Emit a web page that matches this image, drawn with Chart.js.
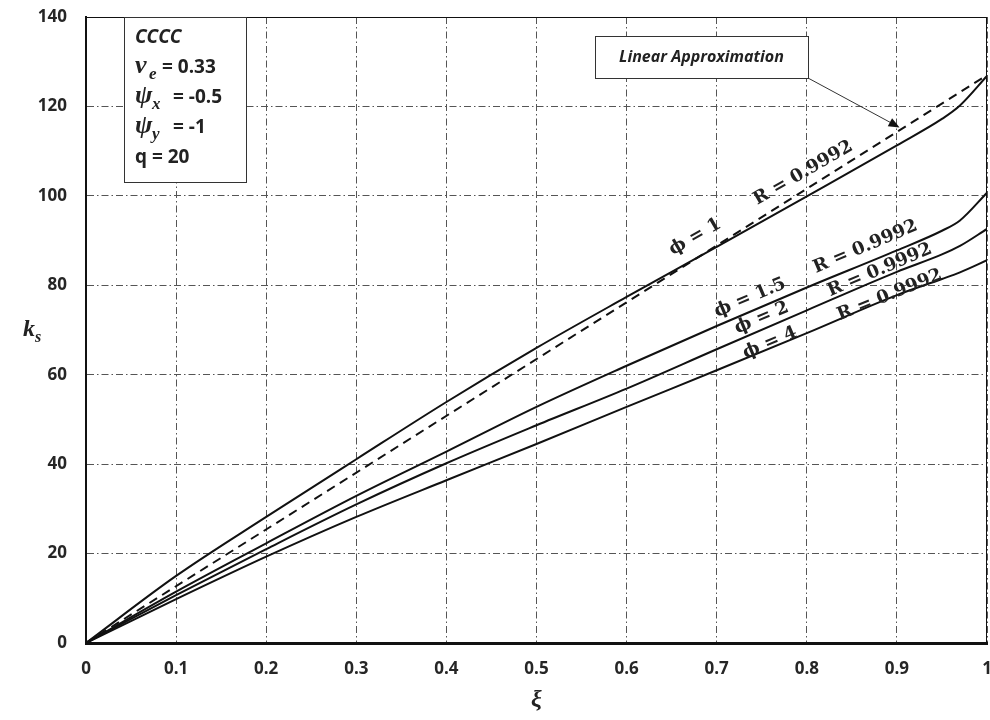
<!DOCTYPE html>
<html>
<head>
  <title>ks vs xi</title>
  <script src="https://cdn.jsdelivr.net/npm/chart.js"></script>
  <style>
    body { margin: 0; background: #fff; }
    #wrap { width: 990px; height: 720px; }
  </style>
</head>
<body>
<div id="wrap"><canvas id="myChart"></canvas></div>

<script>
// values
var xi = [0, 0.1, 0.2, 0.3, 0.4, 0.5, 0.6, 0.7, 0.8, 0.9, 0.95, 0.97, 1];
var phi1 = [0, 15.0, 28.2, 41.1, 53.9, 66.0, 77.4, 88.6, 99.9, 111.3, 117.2, 120.2, 126.8];
var phi15 = [0, 11.5, 22.3, 32.9, 42.8, 52.8, 62.0, 70.9, 79.5, 87.8, 92.2, 94.5, 100.7];
var phi2 = [0, 10.7, 21.0, 31.0, 40.2, 48.7, 56.9, 65.7, 74.4, 83.0, 86.9, 88.8, 92.6];
var phi4 = [0, 9.8, 19.3, 28.2, 36.4, 44.5, 52.8, 61.0, 69.3, 77.8, 81.4, 82.9, 85.6];
var linearX = [0, 1];
var linearY = [0, 127];
var xTickLabels = ['0', '0.1', '0.2', '0.3', '0.4', '0.5', '0.6', '0.7', '0.8', '0.9', '1'];
var yTickLabels = ['0', '20', '40', '60', '80', '100', '120', '140'];

function pts(xs, ys) {
  return xs.map(function(v, i) { return {x: v, y: ys[i]}; });
}

function curve(label, ys) {
  return {
    label: label,
    data: pts(xi, ys),
    borderColor: '#111',
    borderWidth: 2,
    pointRadius: 0,
    cubicInterpolationMode: 'monotone',
    fill: false
  };
}

var tickFont = { family: "'Liberation Sans Narrow', 'Open Sans', sans-serif", size: 17, weight: 'bold' };

// text, box and arrow drawn over the plot
var annot = {
  id: 'annot',
  afterDraw: function(chart) {
    var ctx = chart.ctx, a = chart.chartArea, x = chart.scales.x, y = chart.scales.y;
    ctx.save();

    // frame
    ctx.strokeStyle = '#111';
    ctx.lineWidth = 1;
    ctx.strokeRect(a.left + 0.5, a.top + 0.5, a.width - 1, a.height);

    // info box
    var bx = a.left + 38, by = a.top, bw = 122, bh = 165;
    ctx.fillStyle = '#fff';
    ctx.fillRect(bx, by, bw, bh);
    ctx.strokeStyle = '#333';
    ctx.strokeRect(bx + 0.5, by + 0.5, bw, bh);

    ctx.fillStyle = '#222';
    ctx.textBaseline = 'middle';
    ctx.textAlign = 'left';
    var tx = bx + 11;
    var sans = "'Open Sans', sans-serif";
    var serif = "'Liberation Serif', serif";
    var dserif = "'DejaVu Serif', serif";
    ctx.font = 'italic bold 19px ' + sans;
    ctx.fillText('CCCC', tx, 38);

    ctx.font = 'italic bold 26px ' + serif;
    ctx.fillText('\u03BD', tx, 66);
    ctx.font = 'italic bold 17px ' + serif;
    ctx.fillText('e', tx + 14, 75);
    ctx.font = 'bold 19px ' + sans;
    ctx.fillText('= 0.33', tx + 27, 68);

    ctx.font = 'italic bold 26px ' + serif;
    ctx.fillText('\u03C8', tx, 96);
    ctx.font = 'italic bold 17px ' + serif;
    ctx.fillText('x', tx + 17, 105);
    ctx.font = 'bold 19px ' + sans;
    ctx.fillText('= -0.5', tx + 38, 98);

    ctx.font = 'italic bold 26px ' + serif;
    ctx.fillText('\u03C8', tx, 126);
    ctx.font = 'italic bold 17px ' + serif;
    ctx.fillText('y', tx + 17, 135);
    ctx.font = 'bold 19px ' + sans;
    ctx.fillText('= -1', tx + 38, 128);

    ctx.fillText('q = 20', tx, 158);

    // linear approximation callout
    var lx = 595, ly = 36, lw = 213, lh = 42;
    ctx.fillStyle = '#fff';
    ctx.fillRect(lx, ly, lw, lh);
    ctx.strokeStyle = '#333';
    ctx.strokeRect(lx + 0.5, ly + 0.5, lw, lh);
    ctx.fillStyle = '#222';
    ctx.textAlign = 'center';
    ctx.font = 'italic bold 16px ' + sans;
    ctx.fillText('Linear Approximation', lx + lw / 2, ly + lh / 2);

    var ax0 = lx + lw, ay0 = ly + lh;
    var ax1 = x.getPixelForValue(0.903), ay1 = y.getPixelForValue(115.3);
    var ang = Math.atan2(ay1 - ay0, ax1 - ax0);
    ctx.strokeStyle = '#333';
    ctx.lineWidth = 1;
    ctx.beginPath();
    ctx.moveTo(ax0, ay0);
    ctx.lineTo(ax1 - 8 * Math.cos(ang), ay1 - 8 * Math.sin(ang));
    ctx.stroke();
    ctx.fillStyle = '#111';
    ctx.beginPath();
    ctx.moveTo(ax1, ay1);
    ctx.lineTo(ax1 - 11 * Math.cos(ang) + 4.5 * Math.sin(ang), ay1 - 11 * Math.sin(ang) - 4.5 * Math.cos(ang));
    ctx.lineTo(ax1 - 11 * Math.cos(ang) - 4.5 * Math.sin(ang), ay1 - 11 * Math.sin(ang) + 4.5 * Math.cos(ang));
    ctx.closePath();
    ctx.fill();

    // curve labels
    var labels = [
      ['\u03D5 = 1', 0.676, 90.8, -30],
      ['R = 0.9992', 0.796, 105.1, -30],
      ['\u03D5 = 1.5', 0.737, 77.2, -23],
      ['R = 0.9992', 0.865, 88.6, -23],
      ['\u03D5 = 2', 0.750, 72.7, -23],
      ['R = 0.9992', 0.881, 83.4, -23],
      ['\u03D5 = 4', 0.759, 67.1, -23],
      ['R = 0.9992', 0.892, 77.8, -22]
    ];
    ctx.fillStyle = '#222';
    labels.forEach(function(l) {
      ctx.save();
      ctx.translate(x.getPixelForValue(l[1]), y.getPixelForValue(l[2]));
      ctx.rotate(l[3] * Math.PI / 180);
      ctx.font = 'bold 18px ' + dserif;
      ctx.textAlign = 'center';
      ctx.textBaseline = 'middle';
      ctx.fillText(l[0], 0, 0);
      ctx.restore();
    });

    // axis titles
    ctx.fillStyle = '#222';
    ctx.textAlign = 'left';
    ctx.font = 'italic bold 24px ' + serif;
    ctx.fillText('k', 23, 330);
    ctx.font = 'italic bold 16px ' + serif;
    ctx.fillText('s', 35, 338);
    ctx.textAlign = 'center';
    ctx.font = 'italic bold 24px ' + serif;
    ctx.fillText('\u03BE', (a.left + a.right) / 2, 700);

    ctx.restore();
  }
};

var ctx = document.getElementById('myChart').getContext('2d');
var chart = new Chart(ctx, {
  type: 'scatter',
  data: {
    datasets: [
      curve('phi = 1', phi1),
      curve('phi = 1.5', phi15),
      curve('phi = 2', phi2),
      curve('phi = 4', phi4),
      {
        label: 'Linear Approximation',
        data: pts(linearX, linearY),
        borderColor: '#111',
        borderWidth: 2,
        borderDash: [9, 6],
        pointRadius: 0,
        fill: false
      }
    ]
  },
  options: {
    animation: false,
    responsive: true,
    maintainAspectRatio: false,
    showLine: true,
    layout: { padding: { top: 17, right: 3, left: 0, bottom: 0 } },
    plugins: { legend: { display: false }, tooltip: { enabled: false } },
    scales: {
      x: {
        type: 'linear',
        min: 0, max: 1,
        afterFit: function(s) { s.height = 77; s.paddingLeft = 0; s.paddingRight = 0; },
        ticks: {
          stepSize: 0.1,
          padding: 16,
          color: '#262626',
          font: tickFont,
          callback: function(v, i) { return xTickLabels[i]; }
        },
        grid: { color: '#555', lineWidth: 1, drawTicks: false },
        border: { display: true, color: '#111', width: 3, dash: [7, 3, 1.5, 3] }
      },
      y: {
        min: 0, max: 140,
        afterFit: function(s) { s.width = 86; s.paddingTop = 0; s.paddingBottom = 0; },
        ticks: {
          stepSize: 20,
          padding: 19,
          color: '#262626',
          font: tickFont,
          callback: function(v, i) { return yTickLabels[i]; }
        },
        grid: { color: '#555', lineWidth: 1, drawTicks: false },
        border: { display: true, color: '#111', width: 2, dash: [7, 3, 1.5, 3] }
      }
    }
  },
  plugins: [annot]
});
</script>
</body>
</html>
